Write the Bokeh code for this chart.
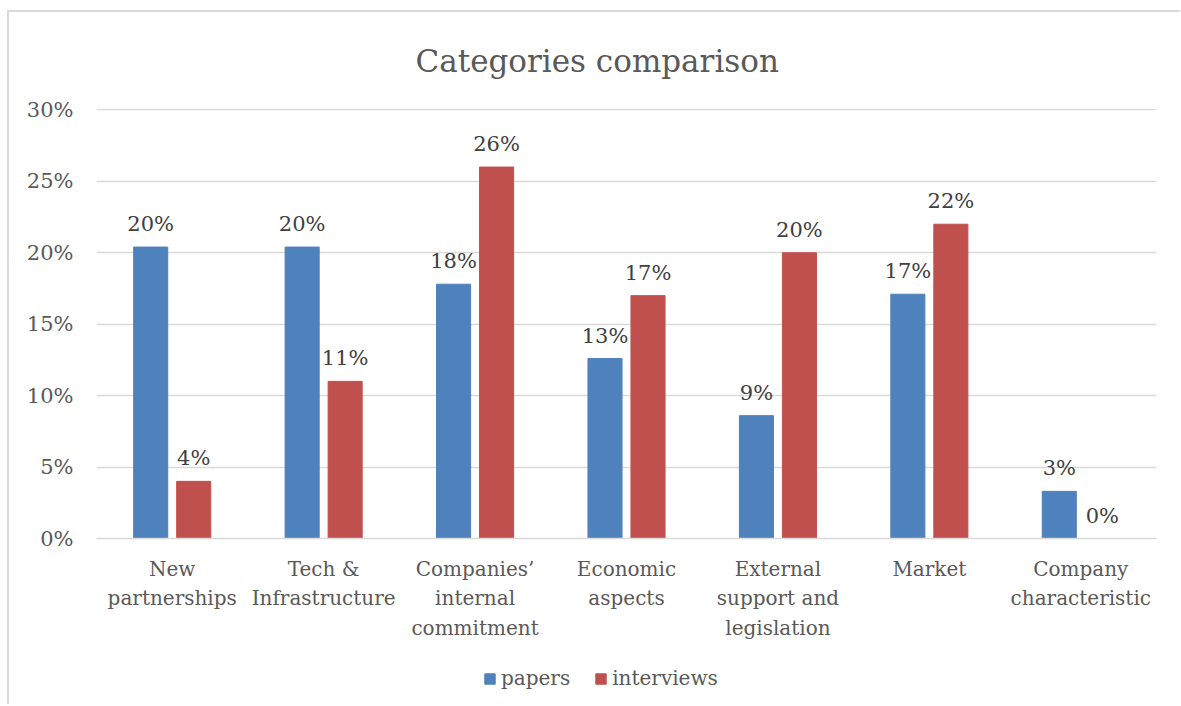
from bokeh.plotting import figure
from bokeh.layouts import column
from bokeh.models import (ColumnDataSource, FixedTicker, PrintfTickFormatter,
                          Legend, LegendItem, Range1d)
from bokeh.core.properties import value
from bokeh.embed import file_html
from bokeh.resources import INLINE

# ---- data -------------------------------------------------------------
categories = [
    "New\npartnerships",
    "Tech &\nInfrastructure",
    "Companies\u2019\ninternal\ncommitment",
    "Economic\naspects",
    "External\nsupport and\nlegislation",
    "Market",
    "Company\ncharacteristic",
]
papers = [20.4, 20.4, 17.8, 12.6, 8.6, 17.1, 3.3]
interviews = [4.0, 11.0, 26.0, 17.0, 20.0, 22.0, 0.0]
y_ticks = [0, 5, 10, 15, 20, 25, 30]
series_names = ["papers", "interviews"]

BLUE = "#4F81BD"
RED = "#C0504D"
FONT = "DejaVu Serif"
GREY = "#595959"
DARK = "#404040"
GRID = "#D9D9D9"

OFFSET = 0.142
BAR_W = 0.225

idx = list(range(len(categories)))


def pct_label(v):
    return f"{int(v + 0.5)}%"


src_p = ColumnDataSource(dict(
    x=[i - OFFSET for i in idx], top=papers,
    lab=[pct_label(v) for v in papers]))
src_i = ColumnDataSource(dict(
    x=[i + OFFSET for i in idx], top=interviews,
    lab=[pct_label(v) for v in interviews]))

# ---- main chart -------------------------------------------------------
p = figure(width=1171, height=636, output_backend="svg", toolbar_location=None,
           x_range=Range1d(-0.5, len(categories) - 0.5), y_range=Range1d(0, 30.1),
           min_border_left=87, min_border_right=24, min_border_top=96,
           min_border_bottom=110)

p.title.text = "Categories comparison"
p.title.align = "left"
p.title.vertical_align = "middle"
p.title.offset = 319
p.title.standoff = 58
p.title.text_font = FONT
p.title.text_font_size = "31px"
p.title.text_font_style = "normal"
p.title.text_color = GREY

rp = p.vbar(x="x", top="top", width=BAR_W, source=src_p, fill_color=BLUE,
            line_color=BLUE)
ri = p.vbar(x="x", top="top", width=BAR_W, source=src_i, fill_color=RED,
            line_color=RED)

for src in (src_p, src_i):
    p.text(x="x", y="top", text="lab", source=src, text_align="center",
           text_baseline="bottom", y_offset=-11, text_font=value(FONT),
           text_font_size="21px", text_color=DARK)

p.outline_line_color = None
p.xgrid.grid_line_color = None
p.ygrid.grid_line_color = GRID
p.ygrid.grid_line_width = 1.3
p.ygrid.ticker = FixedTicker(ticks=y_ticks)

p.yaxis.ticker = FixedTicker(ticks=y_ticks)
p.yaxis.formatter = PrintfTickFormatter(format="%d%%")
p.yaxis.axis_line_color = None
p.yaxis.major_tick_line_color = None
p.yaxis.minor_tick_line_color = None
p.yaxis.major_tick_out = 0
p.yaxis.minor_tick_out = 0
p.yaxis.major_label_standoff = 23
p.yaxis.major_label_text_font = FONT
p.yaxis.major_label_text_font_size = "21px"
p.yaxis.major_label_text_color = GREY

p.xaxis.ticker = FixedTicker(ticks=idx)
p.xaxis.major_label_overrides = {i: c for i, c in zip(idx, categories)}
p.xaxis.axis_line_color = GRID
p.xaxis.axis_line_width = 1.3
p.xaxis.major_tick_line_color = None
p.xaxis.minor_tick_line_color = None
p.xaxis.major_tick_out = 0
p.xaxis.minor_tick_out = 0
p.xaxis.major_label_standoff = 18
p.xaxis.major_label_text_font = FONT
p.xaxis.major_label_text_font_size = "20px"
p.xaxis.major_label_text_color = GREY
p.xaxis.major_label_text_line_height = 1.245

# ---- legend strip (its bars sit outside its visible ranges) -------------
p2 = figure(width=1171, height=56, output_backend="svg", toolbar_location=None,
            x_axis_type=None, y_axis_type=None, min_border=0,
            x_range=Range1d(100, 101), y_range=Range1d(100, 101))
p2.outline_line_color = None
p2.grid.visible = False
lp = p2.vbar(x="x", top="top", width=BAR_W, source=src_p, fill_color=BLUE,
             line_color=BLUE)
li = p2.vbar(x="x", top="top", width=BAR_W, source=src_i, fill_color=RED,
             line_color=RED)

legend = Legend(items=[LegendItem(label=series_names[0], renderers=[lp]),
                       LegendItem(label=series_names[1], renderers=[li])],
                orientation="horizontal", location=(387, 14),
                glyph_width=13, glyph_height=13, label_standoff=5, spacing=24,
                padding=0, margin=0, border_line_color=None,
                background_fill_alpha=0, label_text_font=FONT,
                label_text_font_size="20px", label_text_color=GREY)
p2.add_layout(legend, "center")

layout = column(p, p2, spacing=0)
layout.styles = {"border-top": "2px solid #D9D9D9", "border-left": "2px solid #D9D9D9",
                 "margin-top": "10px", "margin-left": "7px"}

open("out.html", "w").write(file_html(layout, INLINE))
